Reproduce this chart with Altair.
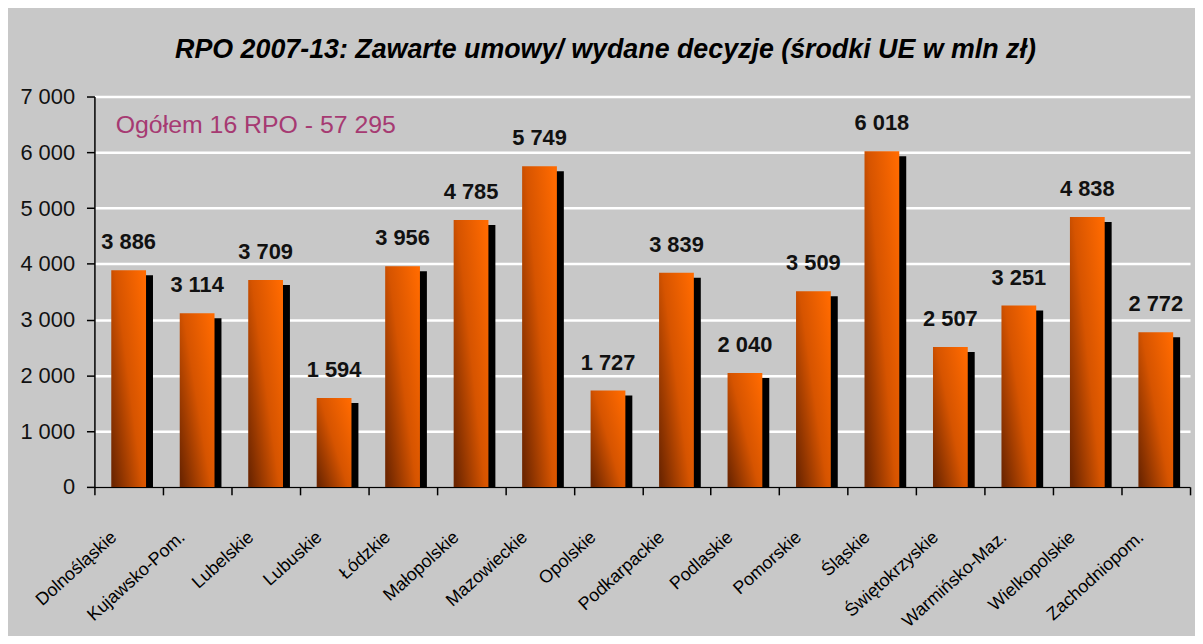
import altair as alt
import pandas as pd

categories = ["Dolnośląskie", "Kujawsko-Pom.", "Lubelskie", "Lubuskie", "Łódzkie",
              "Małopolskie", "Mazowieckie", "Opolskie", "Podkarpackie", "Podlaskie",
              "Pomorskie", "Śląskie", "Świętokrzyskie", "Warmińsko-Maz.",
              "Wielkopolskie", "Zachodniopom."]
values = [3886, 3114, 3709, 1594, 3956, 4785, 5749, 1727, 3839, 2040,
          3509, 6018, 2507, 3251, 4838, 2772]
y_ticks = [0, 1000, 2000, 3000, 4000, 5000, 6000, 7000]
title_text = "RPO 2007-13: Zawarte umowy/ wydane decyzje (środki UE w mln zł)"
note_text = ["Ogółem 16 RPO - 57 295"]
note_value = [6340]
note_category = ["Dolnośląskie"]

FONT = "Liberation Sans"

df = pd.DataFrame({"region": categories, "value": values})
df["label"] = [f"{v:,}".replace(",", " ") for v in values]
note_df = pd.DataFrame({"region": note_category, "value": note_value, "text": note_text})

x_enc = alt.X("region:N", sort=categories, title=None,
              scale=alt.Scale(paddingInner=0, paddingOuter=0),
              axis=alt.Axis(labelAngle=-42, labelAlign="right", labelBaseline="middle",
                            labelFont=FONT, labelFontSize=18, labelColor="#000000",
                            labelOffset=-15, labelPadding=40,
                            domainColor="black", domainWidth=1.5,
                            tickColor="black", tickWidth=1.5, tickSize=8,
                            tickBand="extent", grid=False))
y_enc = alt.Y("value:Q", title=None,
              scale=alt.Scale(domain=[0, 7000], nice=False),
              axis=alt.Axis(values=y_ticks, labelFont=FONT, labelFontSize=22,
                            labelColor="#111111", labelPadding=12,
                            labelExpr="replace(format(datum.value, ','), ',', ' ')",
                            domainColor="black", domainWidth=1.5,
                            tickColor="black", tickWidth=1.5, tickSize=8,
                            grid=True, gridColor="white", gridWidth=2.5))

base = alt.Chart(df).encode(x=x_enc, y=y_enc)

shadow = base.mark_bar(size=35, color="black", xOffset=7, yOffset=5, clip=True)

bars = base.mark_bar(
    size=35,
    color=alt.Gradient(
        gradient="linear",
        stops=[alt.GradientStop(color="#6e2600", offset=0),
               alt.GradientStop(color="#d65400", offset=0.5),
               alt.GradientStop(color="#ff6a00", offset=1)],
        x1=0, y1=0.9, x2=1, y2=0.1,
    ),
)

labels = base.mark_text(font=FONT, fontSize=22, fontWeight="bold", color="#111111",
                        baseline="alphabetic", dy=-21).encode(text="label:N")

note = alt.Chart(note_df).mark_text(font=FONT, fontSize=25, color="#a63a72",
                                    align="left", baseline="alphabetic", dx=-13).encode(
    x=alt.X("region:N", sort=categories),
    y=alt.Y("value:Q"),
    text="text:N",
)

chart = alt.layer(shadow, bars, labels, note).properties(
    width=1103,
    height=393,
    autosize=alt.AutoSizeParams(type="none"),
    padding={"left": 87, "top": 87, "right": 5, "bottom": 148},
    background="#c8c8c8",
    title=alt.TitleParams(text=title_text, font=FONT, fontSize=27, fontWeight="bold",
                          fontStyle="italic", color="black", anchor="middle",
                          dx=-37, offset=22),
).configure_view(stroke=None)

chart.save("out.html", embed_options={"renderer": "svg", "actions": False})
